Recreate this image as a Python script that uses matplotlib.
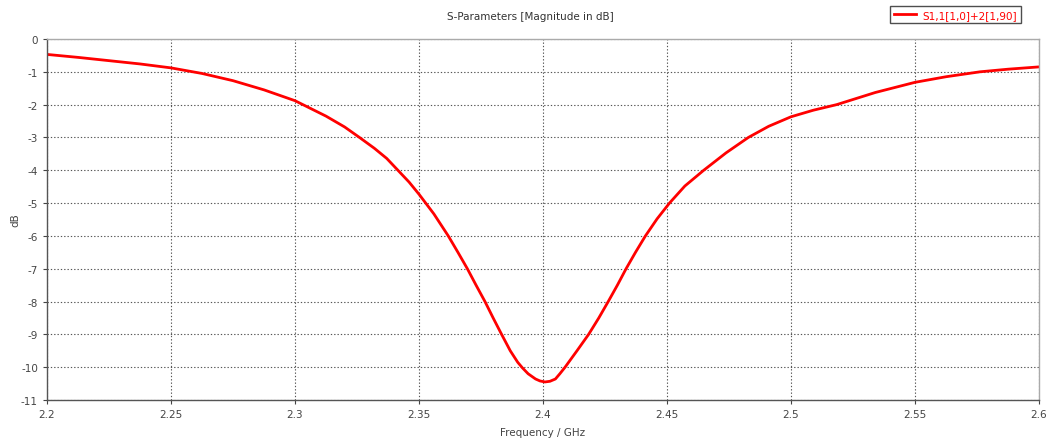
import matplotlib
matplotlib.use("Agg")
import matplotlib.pyplot as plt

plt.rcParams["axes.unicode_minus"] = False

freq_ghz = [2.200, 2.2125, 2.225, 2.2375, 2.250, 2.2625, 2.275, 2.2875, 2.300, 2.3125,
            2.320, 2.326, 2.332, 2.337, 2.3415, 2.346, 2.350, 2.356, 2.3618, 2.3657,
            2.3695, 2.373, 2.3766, 2.3799, 2.3831, 2.3868, 2.3898, 2.3917, 2.394, 2.397,
            2.3988, 2.4008, 2.4028, 2.405, 2.4068, 2.4089, 2.4113, 2.4137, 2.4184, 2.4225,
            2.4263, 2.430, 2.4335, 2.4373, 2.4413, 2.446, 2.451, 2.4572, 2.4648, 2.4738,
            2.4828, 2.491, 2.500, 2.509, 2.5184, 2.534, 2.550, 2.5625, 2.5762, 2.5875,
            2.600]
s11_db = [-0.47, -0.56, -0.66, -0.76, -0.88, -1.05, -1.27, -1.55, -1.88, -2.35,
          -2.68, -3.0, -3.33, -3.64, -4.0, -4.36, -4.73, -5.33, -6.0, -6.5,
          -7.0, -7.5, -8.0, -8.5, -8.97, -9.5, -9.85, -10.02, -10.2, -10.36,
          -10.42, -10.45, -10.43, -10.36, -10.2, -10.0, -9.75, -9.5, -9.0, -8.5,
          -8.0, -7.5, -7.0, -6.5, -6.0, -5.48, -5.0, -4.48, -4.0, -3.47,
          -3.0, -2.66, -2.37, -2.17, -2.0, -1.63, -1.32, -1.15, -1.0, -0.92,
          -0.85]
series_label = "S1,1[1,0]+2[1,90]"
x_ticks = [2.2, 2.25, 2.3, 2.35, 2.4, 2.45, 2.5, 2.55, 2.6]
x_tick_labels = ["2.2", "2.25", "2.3", "2.35", "2.4", "2.45", "2.5", "2.55", "2.6"]
y_ticks = list(range(0, -12, -1))

fig = plt.figure(figsize=(10.51, 4.39), dpi=100)
ax = fig.add_axes([47/1051, 38/439, (1039-47)/1051, (401-40)/439])

line, = ax.plot(freq_ghz, s11_db, color="#ff0000", lw=2.0, label=series_label,
                solid_joinstyle="round")

ax.set_xlim(2.2, 2.6)
ax.set_ylim(-11, 0)
ax.set_xticks(x_ticks)
ax.set_xticklabels(x_tick_labels)
ax.set_yticks(y_ticks)
ax.tick_params(labelsize=7.5, colors="#444444", length=3, width=0.8, direction="out")
ax.grid(True, color="#555555", linestyle=(0, (1.2, 1.8)), linewidth=0.8)

for side in ["left", "bottom"]:
    ax.spines[side].set_color("#555555")
    ax.spines[side].set_linewidth(1.0)
for side in ["top", "right"]:
    ax.spines[side].set_color("#aaaaaa")
    ax.spines[side].set_linewidth(1.0)

fig.text(530/1051, 1 - 17/439, "S-Parameters [Magnitude in dB]", ha="center", va="center",
         fontsize=7.5, color="#333333")
ax.set_xlabel("Frequency / GHz", fontsize=7.5, color="#444444", labelpad=6)
fig.text(15/1051, 1 - 220/439, "dB", rotation=90, ha="center", va="center",
         fontsize=7.5, color="#444444")

leg = fig.legend(handles=[line], loc="upper right", bbox_to_anchor=(1021/1051, 1 - 7/439),
                 fontsize=7.5, frameon=True, fancybox=False, borderpad=0.35,
                 handlelength=2.2, handletextpad=0.6, borderaxespad=0)
leg.get_frame().set_edgecolor("#222222")
leg.get_frame().set_linewidth(1.0)
for t in leg.get_texts():
    t.set_color("#ff0000")

fig.savefig("out.png", dpi=100)
